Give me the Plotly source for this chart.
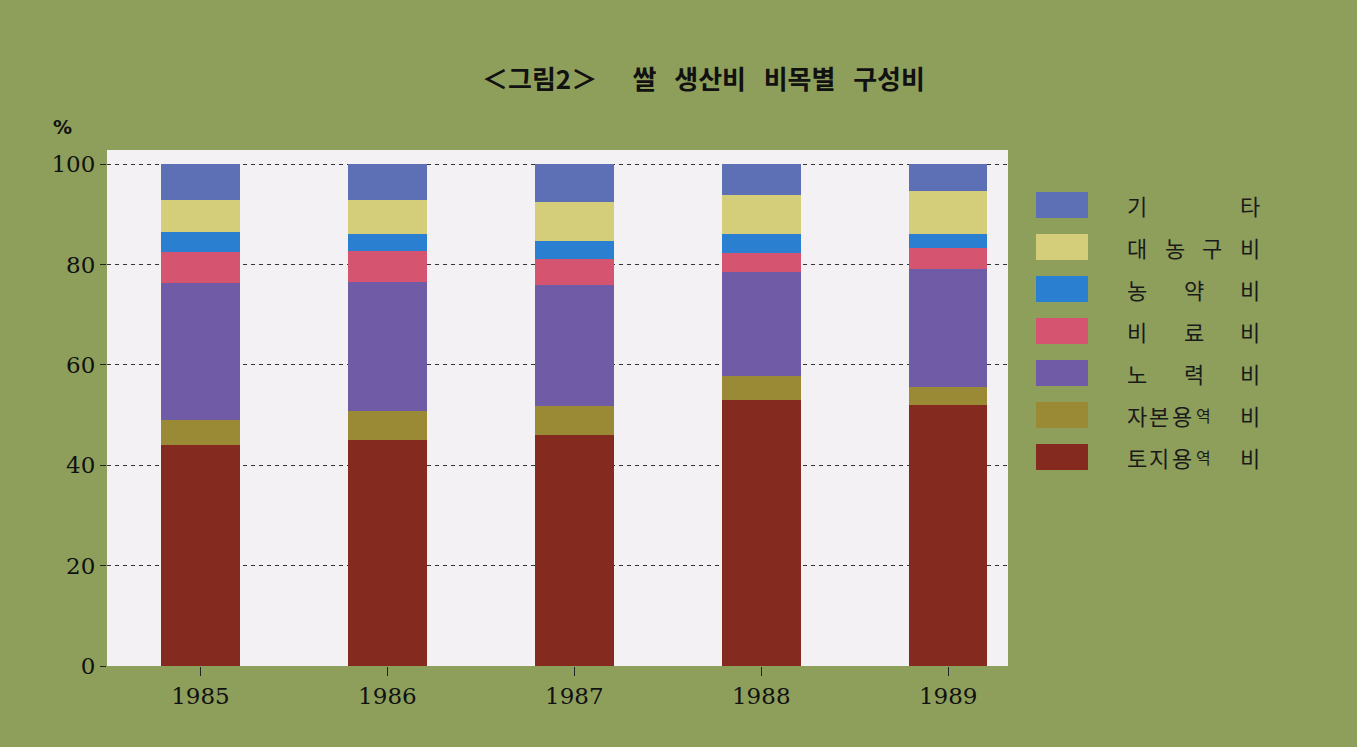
import plotly.graph_objects as go

# ---- data ----
years = ["1985", "1986", "1987", "1988", "1989"]
categories = ["토지용역비", "자본용역비", "노력비", "비료비", "농약비", "대농구비", "기타"]
land = [44.1, 45.1, 46.0, 52.9, 52.0]
capital = [5.0, 5.8, 5.8, 4.9, 3.6]
labor = [27.2, 25.6, 24.2, 20.7, 23.5]
fertilizer = [6.2, 6.2, 5.1, 3.8, 4.2]
pesticide = [4.0, 3.4, 3.5, 3.7, 2.8]
machinery = [6.3, 6.8, 7.8, 7.9, 8.5]
other = [7.2, 7.1, 7.6, 6.1, 5.4]
y_ticks = [0, 20, 40, 60, 80, 100]
NB = "\u00a0"
title_text = "＜그림2＞" + NB * 6 + "쌀" + NB * 3 + "생산비" + NB * 3 + "비목별" + NB * 3 + "구성비"

series = [land, capital, labor, fertilizer, pesticide, machinery, other]
colors = ["#852a1e", "#9a8a35", "#6f5ba6", "#d5546f", "#2b7fd0", "#d4cd79", "#5d6fb5"]

W, H = 1357, 747
L, R, T, B = 107, 349, 150, 81
PW, PH = W - L - R, H - T - B


def px_x(px):
    return (px - L) / PW


def px_y(py):
    return (H - B - py) / PH


fig = go.Figure()
for name, vals, col in zip(categories, series, colors):
    fig.add_trace(go.Bar(
        x=years, y=vals, name=name, marker=dict(color=col, line=dict(width=0)),
        width=0.42, showlegend=False,
    ))

# ---- manual legend (large swatches, justified labels) ----
shapes = []
annotations = []
legend_order = list(zip(categories, colors))[::-1]
row_y0 = 205
row_gap = 42
for i, (name, col) in enumerate(legend_order):
    cy = row_y0 + i * row_gap
    shapes.append(dict(type="rect", xref="paper", yref="paper",
                       x0=px_x(1036), x1=px_x(1088), y0=px_y(cy + 13), y1=px_y(cy - 13),
                       fillcolor=col, line=dict(width=0), layer="above"))
    chars = list(name)
    n = len(chars)
    xs0, xs1 = 1137, 1250
    if n == 5:
        pos = [xs0, xs0 + 22, xs0 + 45, xs0 + 66, xs1]
        sizes = [22, 22, 22, 16, 22]
    else:
        pos = [xs0 + k * (xs1 - xs0) / (n - 1) for k in range(n)]
        sizes = [22] * n
    for ch, xp, fs in zip(chars, pos, sizes):
        annotations.append(dict(text=ch, xref="paper", yref="paper", x=px_x(xp), y=px_y(cy),
                                xanchor="center", yanchor="middle", showarrow=False,
                                font=dict(family="Noto Sans CJK KR", size=fs, color="#1a1a1a")))

# title
annotations.append(dict(text=title_text, xref="paper", yref="paper", x=px_x(703), y=px_y(78),
                        xanchor="center", yanchor="middle", showarrow=False,
                        font=dict(family="Noto Sans CJK KR", size=26, color="#111111", weight="bold")))
# unit label
annotations.append(dict(text="%", xref="paper", yref="paper", x=px_x(62), y=px_y(127),
                        xanchor="center", yanchor="middle", showarrow=False,
                        font=dict(family="DejaVu Sans", size=19, color="#111111", weight="bold")))

fig.update_layout(
    width=W, height=H,
    margin=dict(l=L, r=R, t=T, b=B, pad=0),
    paper_bgcolor="#8e9f5c",
    plot_bgcolor="#f4f1f4",
    barmode="stack",
    bargap=0,
    shapes=shapes,
    annotations=annotations,
    showlegend=False,
)
fig.update_xaxes(
    type="category", range=[-0.5, 4.32], showgrid=False, zeroline=False, showline=False,
    ticks="outside", ticklen=9, tickwidth=1, tickcolor="#222222",
    tickfont=dict(family="DejaVu Serif", size=23, color="#111111"),
)
fig.update_yaxes(
    range=[0, 102.8], tickvals=y_ticks, ticktext=[str(v) for v in y_ticks],
    showgrid=True, gridcolor="#333333", gridwidth=1, griddash="4px,4px",
    zeroline=False, showline=False,
    ticks="outside", ticklen=6, tickwidth=1, tickcolor="#222222",
    tickfont=dict(family="DejaVu Serif", size=23, color="#111111"),
)

fig.write_html(
    "out.html",
    config={"displayModeBar": False},
    post_script="document.body.style.margin='0';document.body.style.overflow='hidden';",
)
